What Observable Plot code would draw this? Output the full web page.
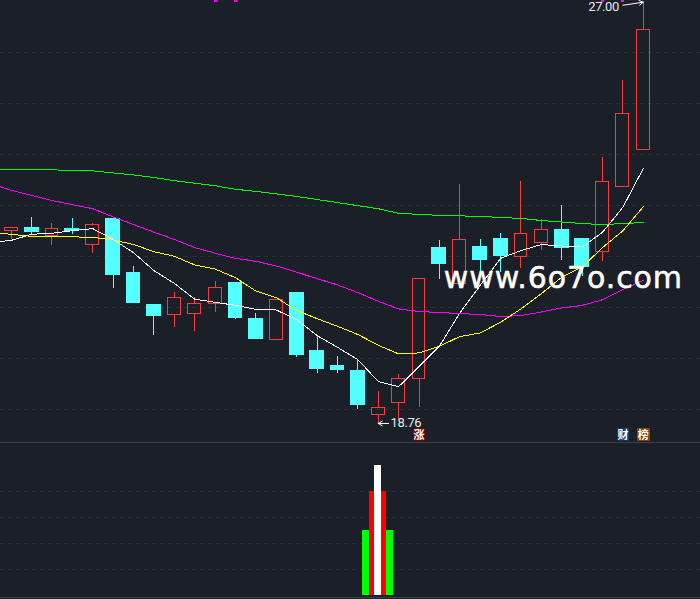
<!DOCTYPE html>
<html><head><meta charset="utf-8">
<style>
html,body{margin:0;padding:0;background:#1b1f28;width:700px;height:599px;overflow:hidden}
#c svg{display:block;overflow:hidden;background:transparent}
</style>
<script src="https://cdn.jsdelivr.net/npm/d3@7"></script>
<script src="https://cdn.jsdelivr.net/npm/@observablehq/plot@0.6"></script>
</head><body><div id="c"></div>
<script>
const opens  = [22.52,22.59,22.42,22.57,22.25,22.77,21.71,21.09,20.88,20.90,21.09,21.52,20.81,20.39,21.32,20.19,19.89,19.80,18.92,19.16,19.63,22.20,21.49,22.22,22.38,22.01,22.29,22.55,22.38,22.11,23.38,24.11];
const closes = [22.59,22.50,22.57,22.51,22.65,21.65,21.11,20.85,21.22,21.10,21.41,20.81,20.40,21.18,20.09,19.82,19.80,19.11,19.07,19.63,21.59,21.87,22.35,21.95,22.03,22.47,22.55,22.18,21.81,23.49,24.82,26.46];
const highs  = [22.59,22.79,22.67,22.77,22.67,22.77,21.83,21.09,21.32,21.22,21.54,21.52,20.91,21.18,21.32,20.46,20.07,20.01,19.39,19.72,21.59,22.34,23.43,22.36,22.48,23.49,22.75,23.02,22.38,23.96,25.47,27.00];
const lows   = [22.36,22.46,22.24,22.46,22.08,21.40,21.11,20.48,20.64,20.56,20.93,20.79,20.40,20.39,20.05,19.74,19.74,19.03,18.76,18.82,19.08,21.58,21.47,21.71,21.71,21.79,22.14,21.95,21.64,21.93,23.38,24.11];
// moving averages: first value sits one session before the first candle
const maWhite   = [22.30,22.34,22.46,22.48,22.53,22.57,22.36,22.10,21.75,21.50,21.19,21.13,21.07,20.99,20.98,20.79,20.48,20.25,20.01,19.58,19.48,19.87,20.27,20.92,21.46,21.99,22.14,22.26,22.23,22.21,22.50,22.99,23.75];
const maYellow  = [22.50,22.46,22.42,22.41,22.41,22.40,22.35,22.26,22.12,22.03,21.86,21.78,21.61,21.35,21.22,20.97,20.81,20.66,20.50,20.29,20.12,20.14,20.27,20.46,20.53,20.74,21.00,21.30,21.62,21.82,22.20,22.53,23.00];
const maMagenta = [23.45,23.32,23.22,23.12,23.04,22.96,22.80,22.65,22.50,22.36,22.20,22.09,21.99,21.93,21.84,21.72,21.59,21.47,21.32,21.15,21.00,20.95,20.93,20.91,20.89,20.85,20.87,20.94,21.02,21.07,21.18,21.38,21.56];
const maGreen   = [23.72,23.72,23.72,23.72,23.71,23.70,23.66,23.62,23.57,23.51,23.46,23.41,23.34,23.30,23.25,23.20,23.14,23.08,23.02,22.96,22.87,22.85,22.83,22.82,22.81,22.79,22.77,22.73,22.70,22.67,22.65,22.67,22.69];
const priceGrid = [26.02,25.02,24.02,23.02,22.03,21.03,20.03,19.03];
const flagSessions = [10,11,29,30];
const lowerGrid = [1,2,3,4];
const lowerGreen = 2.5, lowerRed = 4, lowerWhite = 5;
const lowerSession = 18;

const RED="#f83c3c", CYAN="#54ffff", GRID="#2b2f38", TXT="#e4e9ee", SEP="#3a404c", CRISP="crispEdges";
const LABEL={fontSize:13,fontFamily:"Roboto",fill:TXT};
const candles = opens.map((o,i)=>({i,o,c:closes[i],h:highs[i],l:lows[i],top:Math.max(o,closes[i]),bot:Math.min(o,closes[i]),up:closes[i]>=o}));
const xScale = {type:"band",domain:d3.range(-1,34),range:[-19.9,693.8],paddingInner:0.27,paddingOuter:0.135,align:0.5,round:false,axis:null};
const ma = (arr,stroke,sw=1)=>Plot.line(arr,{x:(d,i)=>i-1,y:d=>d,stroke,strokeWidth:sw,curve:"linear",shapeRendering:CRISP});
const badge = (i,txt,bg)=>[
  Plot.ruleX([i],{y1:18.407,y2:18.652,stroke:bg,strokeWidth:12.5,shapeRendering:CRISP}),
  Plot.text([txt],{x:()=>i,y:()=>18.53,text:d=>d,fill:"#fff",fontSize:11,fontWeight:"bold",fontFamily:"Noto Sans CJK SC"})
];

const mainPanel = Plot.plot({
  width:700,height:441,margin:0,
  style:{background:"transparent",overflow:"hidden"},
  x:xScale,
  y:{domain:[18.407,27.033],range:[441,0],axis:null},
  marks:[
    Plot.ruleY(priceGrid,{stroke:GRID,strokeDasharray:"4 4",strokeWidth:1,shapeRendering:CRISP}),
    Plot.ruleX(flagSessions,{y1:26.99,y2:27.1,stroke:"#ff00ff",strokeWidth:3,shapeRendering:CRISP}),
    Plot.ruleX(candles.filter(d=>d.up),{x:"i",y1:"top",y2:"h",stroke:RED,strokeWidth:1,shapeRendering:CRISP}),
    Plot.ruleX(candles.filter(d=>d.up),{x:"i",y1:"bot",y2:"l",stroke:RED,strokeWidth:1,shapeRendering:CRISP}),
    Plot.ruleX(candles.filter(d=>!d.up),{x:"i",y1:"l",y2:"h",stroke:CYAN,strokeWidth:1,shapeRendering:CRISP}),
    Plot.barY(candles.filter(d=>!d.up),{x:"i",y1:"bot",y2:"top",fill:CYAN,shapeRendering:CRISP}),
    Plot.barY(candles.filter(d=>d.up),{x:"i",y1:"bot",y2:"top",fill:"none",stroke:RED,strokeWidth:1,insetLeft:1,insetRight:1,shapeRendering:CRISP}),
    ma(maGreen,"#00ff00"),
    ma(maMagenta,"#ff00ff"),
    ma(maYellow,"#ffff00"),
    ma(maWhite,"#ffffff"),
    Plot.text(["27.00"],{x:()=>30,y:()=>26.9,text:d=>d,textAnchor:"end",dx:-4,...LABEL}),
    Plot.arrow([0],{x1:()=>30,y1:()=>26.94,x2:()=>31,y2:()=>27.0,bend:0,stroke:"#fff",strokeWidth:1,headLength:7}),
    Plot.text(["18.76"],{x:()=>19,y:()=>18.77,text:d=>d,textAnchor:"start",dx:-8,...LABEL}),
    Plot.arrow([0],{x1:()=>19,y1:()=>18.76,x2:()=>18,y2:()=>18.76,bend:0,insetStart:10,stroke:"#fff",strokeWidth:1,headLength:7}),
    ...badge(20,"涨","#720000"),
    ...badge(30,"财","#0b3a6e"),
    ...badge(31,"榜","#8a4200"),
    Plot.text(["www.6o7o.com"],{x:()=>22,y:()=>21.40,text:d=>d,textAnchor:"start",lineAnchor:"bottom",dx:-16,fill:"#fff",stroke:"#fff",strokeWidth:0.5,fontSize:30,fontFamily:"DejaVu Sans"})
  ]
});
d3.select(mainPanel).selectAll("text").each(function(){
  const t=this.textContent;
  if(t==="www.6o7o.com") this.style.letterSpacing="0.9px";
  if(t==="27.00"||t==="18.76") this.style.letterSpacing="-0.4px";
});

const lowerPanel = Plot.plot({
  width:700,height:158,margin:0,
  style:{background:"transparent",overflow:"hidden"},
  x:xScale,
  y:{domain:[-0.173,5.904],range:[158,0],axis:null},
  marks:[
    Plot.ruleY(lowerGrid,{stroke:GRID,strokeDasharray:"4 4",strokeWidth:1,shapeRendering:CRISP}),
    Plot.ruleY([5.865],{stroke:SEP,strokeWidth:1.5,shapeRendering:CRISP}),
    Plot.ruleY([-0.096],{stroke:SEP,strokeWidth:1,shapeRendering:CRISP}),
    Plot.ruleX([lowerSession],{y1:0,y2:lowerGreen,stroke:"#00ff00",strokeWidth:31,dx:-0.7,shapeRendering:CRISP}),
    Plot.ruleX([lowerSession],{y1:0,y2:lowerRed,stroke:"#ff0000",strokeWidth:17,dx:-0.7,shapeRendering:CRISP}),
    Plot.ruleX([lowerSession],{y1:0,y2:lowerWhite,stroke:"#ffffff",strokeWidth:7,dx:-0.7,shapeRendering:CRISP})
  ]
});
document.getElementById("c").append(mainPanel,lowerPanel);
</script>
</body></html>
